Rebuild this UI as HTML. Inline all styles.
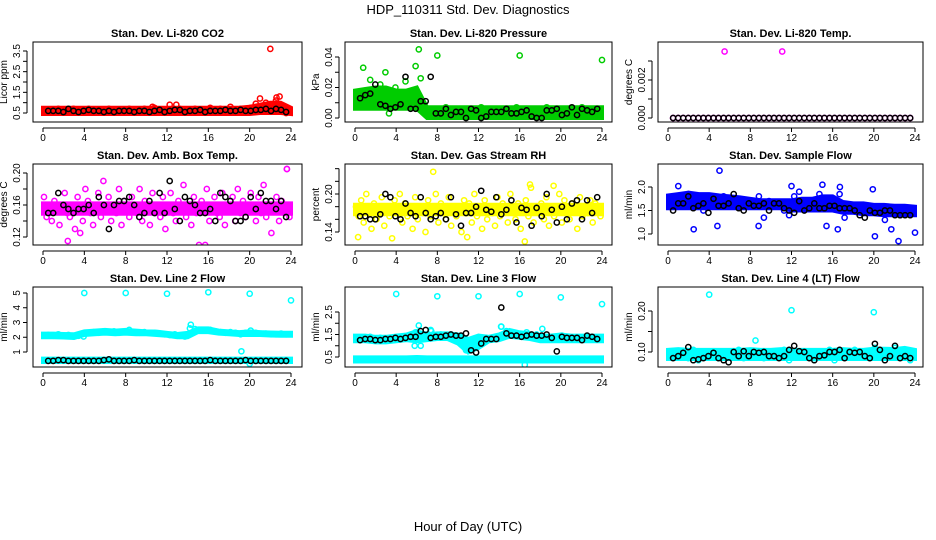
<!DOCTYPE html>
<html><head><meta charset="utf-8"><style>
html,body{margin:0;padding:0;background:#fff;}
svg{display:block;font-family:"Liberation Sans",sans-serif;}
</style></head><body>
<svg id="chart" width="936" height="540" viewBox="0 0 936 540" xmlns="http://www.w3.org/2000/svg">
<text x="468" y="14" font-size="13" text-anchor="middle">HDP_110311  Std. Dev. Diagnostics</text>
<text x="468" y="531" font-size="13" text-anchor="middle">Hour of Day (UTC)</text>
</svg>
<script>
// ---- data ----
const bandHours = [0,1,2,3,4,5,6,7,8,9,10,11,12,13,14,15,16,17,18,19,20,21,22,23,24];
const xTicks = [0,4,8,12,16,20,24];
// P1 CO2
const co2BandLo = [0.45,0.45,0.45,0.45,0.45,0.45,0.45,0.45,0.45,0.45,0.45,0.45,0.45,0.45,0.45,0.45,0.45,0.45,0.45,0.45,0.45,0.5,0.5,0.5,0.45];
const co2BandHi = [0.75,0.75,0.75,0.75,0.75,0.75,0.75,0.75,0.75,0.75,0.75,0.75,0.75,0.75,0.75,0.75,0.75,0.75,0.75,0.75,0.8,0.9,1.0,1.0,0.75];
const co2Red = [0.65,0.6,0.7,0.55,0.65,0.7,0.6,0.65,0.7,0.6,0.55,0.65,0.7,0.6,0.65,0.6,0.7,0.65,0.6,0.7,0.65,0.75,0.6,0.65,0.9,0.65,0.7,0.6,0.65,0.7,0.6,0.65,0.75,0.6,0.7,0.65,0.8,0.65,0.7,0.6,0.75,0.95,0.8,1.0,0.9,1.1,0.8,0.5];
const co2OutX = [22,21,22.6,22.9,12.9,10.6];
const co2OutY = [3.6,1.2,1.25,1.3,0.9,0.8];
const co2Black = [0.6,0.6,0.6,0.55,0.7,0.6,0.55,0.6,0.65,0.6,0.6,0.55,0.6,0.55,0.6,0.6,0.6,0.55,0.6,0.6,0.55,0.6,0.65,0.55,0.6,0.65,0.65,0.55,0.6,0.6,0.65,0.55,0.6,0.6,0.6,0.65,0.6,0.6,0.65,0.6,0.6,0.65,0.65,0.7,0.6,0.7,0.65,0.55];
// P2 pressure
const presBandLo = [0.006,0.006,0.006,0.006,0.006,0.006,0.006,0,0,0,0,0,0,0,0,0,0,0,0,0,0,0,0,0,0];
const presBandHi = [0.018,0.019,0.02,0.02,0.018,0.018,0.02,0.007,0.007,0.007,0.007,0.007,0.007,0.007,0.007,0.007,0.007,0.007,0.007,0.007,0.007,0.007,0.007,0.007,0.007];
const presGreen = [0.012,0.018,0.025,0.015,0.022,0.03,0.014,0.02,0.009,0.024,0.016,0.034,0.026,0.004,0.006,0.002,0.005,0.007,0.003,0.006,0.004,0.005,0.002,0.006,0.007,0.004,0.003,0.005,0.006,0.002,0.004,0.007,0.005,0.003,0.006,0.004,0.005,0.007,0.002,0.006,0.004,0.005,0.003,0.006,0.007,0.004,0.005,0.006];
const presOutX = [6.2,8,16,24,0.8,3.3];
const presOutY = [0.045,0.041,0.041,0.038,0.033,0.003];
const presBlack = [0.013,0.015,0.016,0.022,0.009,0.008,0.006,0.007,0.009,0.027,0.006,0.006,0.011,0.011,0.027,0.003,0.003,0.006,0.002,0.004,0.004,0,0.006,0.005,0,0.001,0.004,0.004,0.004,0.006,0.003,0.003,0.004,0.005,0.001,0,0,0.005,0.005,0.006,0.002,0.003,0.007,0.002,0.006,0.005,0.004,0.006];
// P3 Li-820 temp
const tempMag = [0,0,0,0,0,0,0,0,0,0,0,0,0,0,0,0,0,0,0,0,0,0,0,0,0,0,0,0,0,0,0,0,0,0,0,0,0,0,0,0,0,0,0,0,0,0,0,0];
const tempOutX = [5.5,11.1];
const tempOutY = [0.0035,0.0035];
const tempBlack = [0,0,0,0,0,0,0,0,0,0,0,0,0,0,0,0,0,0,0,0,0,0,0,0,0,0,0,0,0,0,0,0,0,0,0,0,0,0,0,0,0,0,0,0,0,0,0,0];
// P4 amb box temp
const ambMag = [0.17,0.145,0.15,0.14,0.165,0.16,0.135,0.155,0.175,0.15,0.145,0.16,0.13,0.17,0.155,0.14,
0.18,0.165,0.15,0.135,0.16,0.175,0.145,0.19,0.155,0.17,0.14,0.16,0.15,0.18,0.135,0.165,
0.155,0.145,0.17,0.16,0.15,0.18,0.14,0.165,0.155,0.135,0.175,0.15,0.16,0.145,0.17,0.13,
0.16,0.175,0.15,0.14,0.165,0.155,0.185,0.145,0.16,0.135,0.17,0.15,0.11,0.165,0.155,0.18,
0.14,0.16,0.17,0.15,0.145,0.175,0.135,0.16,0.155,0.17,0.14,0.18,0.15,0.165,0.145,0.16,
0.175,0.155,0.14,0.17,0.15,0.185,0.145,0.16,0.125,0.155,0.17,0.14,0.165,0.15,0.205,0.145];
const ambBandLo = [0.149,0.149,0.149,0.149,0.149,0.149,0.149,0.149,0.149,0.149,0.149,0.149,0.149,0.149,0.149,0.149,0.149,0.149,0.149,0.149,0.149,0.149,0.149,0.149,0.149];
const ambBandHi = [0.162,0.162,0.162,0.162,0.162,0.162,0.162,0.162,0.162,0.162,0.162,0.162,0.162,0.162,0.162,0.162,0.162,0.162,0.162,0.162,0.162,0.162,0.162,0.162,0.162];
const ambOutX = [2.4,15.7,3.6,23.6];
const ambOutY = [0.115,0.11,0.125,0.205];
const ambBlack = [0.15,0.15,0.175,0.16,0.155,0.15,0.155,0.155,0.16,0.15,0.17,0.16,0.13,0.16,0.165,0.165,0.17,0.16,0.145,0.15,0.165,0.15,0.175,0.15,0.19,0.155,0.14,0.17,0.165,0.16,0.15,0.15,0.155,0.14,0.175,0.17,0.165,0.14,0.14,0.145,0.17,0.155,0.175,0.165,0.165,0.155,0.165,0.145];
// P5 gas stream RH
const rhYel = [0.18,0.165,0.19,0.155,0.2,0.17,0.145,0.185,0.16,0.175,0.195,0.15,0.18,0.165,0.13,0.19,
0.17,0.2,0.155,0.185,0.165,0.175,0.145,0.195,0.16,0.18,0.17,0.14,0.19,0.165,0.175,0.2,
0.155,0.185,0.17,0.16,0.195,0.15,0.18,0.165,0.175,0.14,0.19,0.17,0.185,0.155,0.2,0.165,
0.175,0.145,0.19,0.16,0.18,0.17,0.15,0.195,0.165,0.185,0.175,0.155,0.2,0.17,0.16,0.185,
0.145,0.18,0.19,0.165,0.21,0.155,0.175,0.17,0.185,0.16,0.195,0.15,0.18,0.165,0.175,0.2,
0.155,0.19,0.17,0.16,0.185,0.175,0.145,0.195,0.165,0.18,0.17,0.19,0.155,0.185,0.175,0.165];
const rhBandLo = [0.168,0.168,0.168,0.168,0.168,0.168,0.168,0.168,0.168,0.168,0.168,0.168,0.168,0.168,0.168,0.168,0.168,0.168,0.168,0.168,0.168,0.168,0.168,0.168,0.168];
const rhBandHi = [0.183,0.183,0.183,0.183,0.183,0.183,0.183,0.183,0.183,0.183,0.183,0.183,0.183,0.183,0.183,0.183,0.183,0.183,0.183,0.183,0.183,0.183,0.183,0.183,0.183];
const rhOutX = [7.6,16.5,0.3,10.9,17,19.3];
const rhOutY = [0.235,0.125,0.132,0.132,0.215,0.213];
const rhBlack = [0.165,0.165,0.16,0.16,0.168,0.2,0.195,0.165,0.16,0.185,0.17,0.165,0.195,0.17,0.16,0.165,0.17,0.16,0.195,0.168,0.15,0.17,0.17,0.18,0.205,0.175,0.172,0.195,0.168,0.175,0.19,0.155,0.178,0.175,0.15,0.178,0.165,0.2,0.175,0.155,0.18,0.16,0.185,0.19,0.16,0.19,0.17,0.195];
// P6 sample flow
const sfBandLo = [1.55,1.55,1.55,1.55,1.55,1.55,1.55,1.55,1.55,1.55,1.55,1.55,1.5,1.5,1.5,1.5,1.5,1.45,1.45,1.42,1.42,1.4,1.4,1.4,1.4];
const sfBandHi = [1.82,1.85,1.88,1.85,1.85,1.82,1.8,1.78,1.75,1.72,1.72,1.72,1.72,1.75,1.75,1.8,1.8,1.68,1.65,1.65,1.62,1.62,1.6,1.6,1.58];
const sfBlue = [1.7,1.75,1.6,1.85,1.8,1.65,1.5,1.7,1.75,1.6,1.8,1.7,1.65,1.75,1.6,1.7,1.65,1.8,1.35,1.7,1.65,1.6,1.5,1.4,1.8,1.9,1.65,1.7,1.6,1.85,1.75,1.55,1.6,1.85,1.35,1.6,1.5,1.55,1.6,1.45,1.5,1.55,1.3,1.45,1.5,1.4,1.55,1.45];
const sfOutX = [5,2.5,4.8,8.8,16.5,20.1,22.4,24,1,12,15,16.7,19.9,21.7,15.4];
const sfOutY = [2.35,1.1,1.17,1.17,1.1,0.95,0.85,1.03,2.02,2.02,2.05,2.0,1.95,1.1,1.17];
const sfBlack = [1.5,1.65,1.65,1.8,1.55,1.6,1.65,1.45,1.75,1.6,1.6,1.65,1.85,1.55,1.5,1.65,1.6,1.6,1.65,1.5,1.65,1.65,1.55,1.5,1.45,1.7,1.5,1.55,1.65,1.55,1.55,1.6,1.6,1.55,1.55,1.55,1.5,1.4,1.35,1.5,1.45,1.45,1.5,1.5,1.4,1.4,1.4,1.4];
// P7 line 2 flow
const l2UpLo = [2.0,2.0,1.98,1.95,2.15,2.2,2.25,2.2,2.25,2.2,2.2,2.15,2.1,2.0,2.0,2.35,2.35,2.25,2.2,2.15,2.15,2.15,2.12,2.1,2.1];
const l2UpHi = [2.25,2.25,2.22,2.2,2.4,2.45,2.5,2.45,2.5,2.45,2.4,2.38,2.3,2.22,2.3,2.6,2.6,2.45,2.4,2.35,2.4,2.35,2.32,2.3,2.3];
const l2LowLo = [0.32,0.32,0.32,0.32,0.32,0.32,0.32,0.32,0.32,0.32,0.32,0.32,0.32,0.32,0.32,0.32,0.32,0.32,0.32,0.32,0.32,0.32,0.32,0.32,0.32];
const l2LowHi = [0.55,0.55,0.55,0.55,0.55,0.55,0.55,0.55,0.55,0.55,0.55,0.55,0.55,0.55,0.55,0.55,0.55,0.55,0.55,0.55,0.55,0.55,0.55,0.55,0.55];
const l2Cyan = [2.15,2.1,2.2,2.1,2.15,2.05,2.1,2.05,2.3,2.35,2.3,2.4,2.35,2.4,2.3,2.35,2.5,2.35,2.3,2.35,2.3,2.3,2.25,2.2,2.15,2.2,2.1,2.05,2.6,2.55,2.45,2.5,2.5,2.4,2.35,2.3,2.35,2.3,2.2,2.3,2.45,2.3,2.25,2.25,2.2,2.2,2.25,2.2];
const l2OutX = [4,8,12,16,20,24,14.3,19.2,20];
const l2OutY = [5,5,4.95,5.05,4.95,4.5,2.85,1.05,0.2];
const l2Black = [0.4,0.4,0.45,0.45,0.4,0.4,0.4,0.4,0.4,0.4,0.4,0.45,0.5,0.4,0.4,0.4,0.4,0.45,0.4,0.4,0.4,0.4,0.4,0.4,0.4,0.4,0.4,0.4,0.4,0.4,0.4,0.4,0.45,0.4,0.4,0.4,0.4,0.4,0.4,0.45,0.4,0.4,0.4,0.4,0.4,0.4,0.4,0.4];
// P8 line 3 flow
const l3UpLo = [1.2,1.2,1.15,1.15,1.2,1.25,1.2,1.25,1.3,1.3,1.1,0.7,0.9,1.2,1.25,1.4,1.35,1.3,1.2,1.2,1.2,1.2,1.2,1.2,1.2];
const l3UpHi = [1.45,1.45,1.4,1.4,1.45,1.5,1.65,1.5,1.55,1.55,1.5,1.3,1.45,1.4,1.5,1.7,1.6,1.55,1.45,1.45,1.5,1.45,1.45,1.45,1.45];
const l3LowLo = [0.3,0.3,0.3,0.3,0.3,0.3,0.3,0.3,0.3,0.3,0.3,0.3,0.3,0.3,0.3,0.3,0.3,0.3,0.3,0.3,0.3,0.3,0.3,0.3,0.3];
const l3LowHi = [0.48,0.48,0.48,0.48,0.48,0.48,0.5,0.48,0.48,0.48,0.48,0.48,0.48,0.48,0.48,0.48,0.48,0.48,0.48,0.48,0.48,0.48,0.48,0.48,0.48];
const l3Cyan = [1.35,1.3,1.4,1.3,1.35,1.3,1.3,1.35,1.4,1.35,1.3,1.6,1.0,1.5,1.7,1.4,1.5,1.45,1.5,1.4,1.1,0.8,1.0,1.2,1.3,1.35,1.3,1.3,1.85,1.65,1.5,1.45,1.5,1.6,1.45,1.5,1.4,1.3,1.4,1.35,1.45,1.4,1.35,1.35,1.3,1.4,1.35,1.35];
const l3OutX = [4,8,12,16,20,24,6.2,14.2,18.2,5.8,7.4,16.5];
const l3OutY = [3.3,3.2,3.2,3.3,3.15,2.85,1.9,1.85,1.75,1.0,1.65,0.15];
const l3Black = [1.25,1.3,1.3,1.25,1.25,1.3,1.3,1.35,1.3,1.35,1.4,1.4,1.65,1.7,1.35,1.4,1.4,1.45,1.5,1.45,1.45,1.55,0.8,0.7,1.1,1.3,1.3,1.3,2.7,1.55,1.45,1.45,1.4,1.45,1.5,1.45,1.45,1.5,1.35,0.75,1.4,1.35,1.35,1.35,1.25,1.45,1.4,1.3];
// P9 line 4 flow
const l4BandLo = [0.083,0.083,0.083,0.083,0.083,0.083,0.083,0.083,0.083,0.083,0.083,0.083,0.083,0.083,0.083,0.083,0.083,0.083,0.083,0.083,0.083,0.083,0.083,0.083,0.083];
const l4BandHi = [0.105,0.107,0.105,0.105,0.105,0.105,0.105,0.105,0.107,0.105,0.105,0.107,0.105,0.105,0.105,0.105,0.105,0.107,0.105,0.105,0.108,0.108,0.107,0.11,0.105];
const l4Cyan = [0.095,0.09,0.1,0.085,0.105,0.08,0.095,0.1,0.09,0.085,0.1,0.095,0.09,0.105,0.085,0.1,0.09,0.095,0.085,0.1,0.095,0.09,0.105,0.08,0.1,0.09,0.095,0.1,0.085,0.095,0.09,0.105,0.08,0.1,0.095,0.09,0.105,0.095,0.1,0.085,0.11,0.1,0.095,0.09,0.11,0.1,0.095,0.08];
const l4OutX = [4,12,20,8.5];
const l4OutY = [0.24,0.202,0.197,0.128];
const l4Black = [0.085,0.09,0.098,0.112,0.08,0.082,0.085,0.09,0.098,0.085,0.08,0.075,0.1,0.09,0.102,0.09,0.1,0.098,0.1,0.09,0.09,0.085,0.09,0.105,0.115,0.102,0.1,0.085,0.08,0.09,0.092,0.1,0.1,0.105,0.085,0.1,0.098,0.1,0.09,0.085,0.12,0.105,0.08,0.09,0.115,0.085,0.09,0.085];

const hours48 = [];
for (let i = 0; i < 48; i++) hours48.push(0.5 + i * 0.49);
const hours96 = [];
for (let i = 0; i < 96; i++) hours96.push(0.1 + i * 0.25);

// ---- rendering ----
const NS = "http://www.w3.org/2000/svg";
const svg = document.getElementById('chart');
const colLeft = [33, 345, 658], colRight = [302, 612, 923];
const x0 = [43, 355, 668], x24 = [291, 602, 915];
const rowTop = [42, 164, 287], rowBot = [122, 245, 367];

function mk(tag, attrs, parent) {
  const e = document.createElementNS(NS, tag);
  for (const k in attrs) e.setAttribute(k, attrs[k]);
  (parent || svg).appendChild(e);
  return e;
}

const panels = [
  {r:0,c:0,title:"Stan. Dev. Li-820 CO2",ylab:"Licor ppm",v0:0.5,p0:113,v1:3.5,p1:51,ticks:[0.5,1,1.5,2,2.5,3,3.5],labels:["0.5","","1.5","","2.5","","3.5"],col:"#ff0000",
   bands:[[co2BandLo,co2BandHi]],pts:[[hours48,co2Red]],outX:co2OutX,outY:co2OutY,black:co2Black},
  {r:0,c:1,title:"Stan. Dev. Li-820 Pressure",ylab:"kPa",v0:0,p0:118,v1:0.04,p1:57,ticks:[0,0.01,0.02,0.03,0.04],labels:["0.00","","0.02","","0.04"],col:"#00cc00",
   bands:[[presBandLo,presBandHi]],pts:[[hours48,presGreen]],outX:presOutX,outY:presOutY,black:presBlack},
  {r:0,c:2,title:"Stan. Dev. Li-820 Temp.",ylab:"degrees C",v0:0,p0:118,v1:0.002,p1:80,ticks:[0,0.001,0.002,0.003],labels:["0.000","","0.002",""],col:"#ff00ff",
   bands:[],pts:[[hours48,tempMag]],outX:tempOutX,outY:tempOutY,black:tempBlack},
  {r:1,c:0,title:"Stan. Dev. Amb. Box Temp.",ylab:"degrees C",v0:0.12,p0:237,v1:0.20,p1:173,ticks:[0.12,0.14,0.16,0.18,0.2],labels:["0.12","","0.16","","0.20"],col:"#ff00ff",
   bands:[[ambBandLo,ambBandHi]],pts:[[hours96,ambMag]],outX:ambOutX,outY:ambOutY,black:ambBlack},
  {r:1,c:1,title:"Stan. Dev. Gas Stream RH",ylab:"percent",v0:0.14,p0:232,v1:0.20,p1:194,ticks:[0.14,0.16,0.18,0.2,0.22,0.24],labels:["0.14","","","0.20","",""],col:"#ffff00",
   bands:[[rhBandLo,rhBandHi]],pts:[[hours96,rhYel]],outX:rhOutX,outY:rhOutY,black:rhBlack},
  {r:1,c:2,title:"Stan. Dev. Sample Flow",ylab:"ml/min",v0:1.0,p0:234,v1:2.0,p1:187,ticks:[1,1.5,2],labels:["1.0","1.5","2.0"],col:"#0000ff",
   bands:[[sfBandLo,sfBandHi]],pts:[[hours48,sfBlue]],outX:sfOutX,outY:sfOutY,black:sfBlack},
  {r:2,c:0,title:"Stan. Dev. Line 2 Flow",ylab:"ml/min",v0:1,p0:352,v1:5,p1:293,ticks:[1,2,3,4,5],labels:["1","2","3","4","5"],col:"#00ffff",
   bands:[[l2UpLo,l2UpHi],[l2LowLo,l2LowHi]],pts:[[hours48,l2Cyan]],outX:l2OutX,outY:l2OutY,black:l2Black},
  {r:2,c:1,title:"Stan. Dev. Line 3 Flow",ylab:"ml/min",v0:0.5,p0:357,v1:2.5,p1:312,ticks:[0.5,1,1.5,2,2.5],labels:["0.5","","1.5","","2.5"],col:"#00ffff",
   bands:[[l3UpLo,l3UpHi],[l3LowLo,l3LowHi]],pts:[[hours48,l3Cyan]],outX:l3OutX,outY:l3OutY,black:l3Black},
  {r:2,c:2,title:"Stan. Dev. Line 4 (LT) Flow",ylab:"ml/min",v0:0.10,p0:352,v1:0.20,p1:311,ticks:[0.1,0.15,0.2],labels:["0.10","","0.20"],col:"#00ffff",
   bands:[[l4BandLo,l4BandHi]],pts:[[hours48,l4Cyan]],outX:l4OutX,outY:l4OutY,black:l4Black}
];

panels.forEach((p, idx) => {
  const L = colLeft[p.c], R = colRight[p.c], T = rowTop[p.r], B = rowBot[p.r];
  const xs = h => x0[p.c] + (x24[p.c] - x0[p.c]) * h / 24;
  const ys = v => p.p0 + (p.p1 - p.p0) * (v - p.v0) / (p.v1 - p.v0);
  const g = mk('g', {});
  
  
  const clipId = 'clip' + idx;
  const cp = mk('clipPath', {id: clipId}, g);
  mk('rect', {x: L, y: T, width: R - L, height: B - T}, cp);
  const t = mk('text', {x: (L + R) / 2, y: rowTop[p.r] - 5, 'font-size': 11, 'font-weight': 'bold', 'text-anchor': 'middle'}, g);
  t.textContent = p.title;
  
  
  const yl = mk('text', {x: L - 26, y: (T + B) / 2, 'font-size': 10, 'text-anchor': 'middle', transform: `rotate(-90 ${L - 26} ${(T + B) / 2})`}, g);
  yl.textContent = p.ylab;
  
  
  const data = mk('g', {'clip-path': `url(#${clipId})`}, g);
  
  
  p.bands.forEach(b => {
    let d = '';
    bandHours.forEach((h, i) => { d += (i ? 'L' : 'M') + xs(h).toFixed(1) + ',' + ys(b[1][i]).toFixed(1); });
    for (let i = bandHours.length - 1; i >= 0; i--) d += 'L' + xs(bandHours[i]).toFixed(1) + ',' + ys(b[0][i]).toFixed(1);
    const band = mk('path', {d: d + 'Z', fill: p.col, stroke: p.col, 'stroke-width': 4}, data);
    
    
  });
  const circ = (x, y, color, name) => {
    const c = mk('circle', {cx: xs(x).toFixed(1), cy: ys(y).toFixed(1), r: 2.6, fill: 'none', stroke: color, 'stroke-width': 1.5}, data);
    
    
  };
  p.pts.forEach(s => s[1].forEach((v, i) => circ(s[0][i], v, p.col, 'point')));
  p.outX.forEach((h, i) => circ(h, p.outY[i], p.col, 'outlier-point'));
  p.black.forEach((v, i) => circ(hours48[i], v, '#000', 'hourly-point'));
  mk('rect', {x: L, y: T, width: R - L, height: B - T, fill: 'none', stroke: '#000', 'stroke-width': 1}, g);
  // x axis
  mk('line', {x1: xs(0), x2: xs(24), y1: B + 6, y2: B + 6, stroke: '#000'}, g);
  xTicks.forEach(h => {
    mk('line', {x1: xs(h), x2: xs(h), y1: B + 6, y2: B + 10, stroke: '#000'}, g);
    const tl = mk('text', {x: xs(h), y: B + 19, 'font-size': 10, 'text-anchor': 'middle'}, g);
    tl.textContent = h;
    
    
  });
  // y axis
  const ya = ys(p.ticks[0]), yb = ys(p.ticks[p.ticks.length - 1]);
  mk('line', {x1: L - 6, x2: L - 6, y1: ya, y2: yb, stroke: '#000'}, g);
  p.ticks.forEach((v, i) => {
    const yy = ys(v);
    mk('line', {x1: L - 10, x2: L - 6, y1: yy, y2: yy, stroke: '#000'}, g);
    if (p.labels[i]) {
      const tl = mk('text', {x: L - 13, y: yy, 'font-size': 10, 'text-anchor': 'middle', transform: `rotate(-90 ${L - 13} ${yy})`}, g);
      tl.textContent = p.labels[i];
      
      
    }
  });
});
</script>
</body></html>
